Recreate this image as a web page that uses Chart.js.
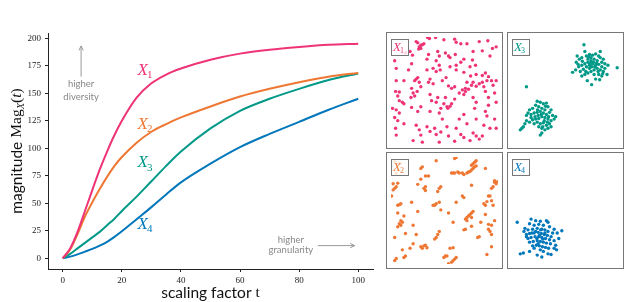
<!DOCTYPE html>
<html>
<head>
<meta charset="utf-8">
<script src="https://cdn.jsdelivr.net/npm/chart.js@4.4.1/dist/chart.umd.min.js"></script>
<style>
html, body { margin: 0; padding: 0; background: #fff; }
#wrap { position: relative; width: 640px; height: 302px; overflow: hidden; }
#main { position: absolute; left: 0; top: 0; }
.panel { position: absolute; box-sizing: border-box; width: 117px; height: 117px; border: 1px solid #777; }
.panel canvas { display: block; }
</style>
</head>
<body>
<div id="wrap">
  <canvas id="main" width="380" height="302"></canvas>
  <div class="panel" style="left:386px;top:32px"><canvas id="p1" width="115" height="115"></canvas></div>
  <div class="panel" style="left:507px;top:32px"><canvas id="p3" width="115" height="115"></canvas></div>
  <div class="panel" style="left:386px;top:152px"><canvas id="p2" width="115" height="115"></canvas></div>
  <div class="panel" style="left:507px;top:152px"><canvas id="p4" width="115" height="115"></canvas></div>
</div>
<script>
// scaling factor t and magnitude curves
var tValues = [0, 2.5, 5, 7.5, 10, 12.5, 15, 17.5, 20, 25, 30, 35, 40, 50, 60, 70, 80, 90, 100];
var magX1 = [0, 9, 24, 43, 62, 80.5, 97, 112, 125, 146, 159, 167, 172.5, 180.5, 186, 189.5, 192, 194, 195];
var magX2 = [0, 8, 22, 38, 51, 63, 74, 84, 92, 105, 115, 122, 128, 138, 147, 154, 160, 165, 168.5];
var magX3 = [0, 4, 9, 14, 19, 24, 30, 36, 43, 56, 70, 84, 97, 118, 134, 145, 154, 162, 168];
var magX4 = [0, 1.5, 3.5, 6, 8.5, 11.5, 15, 19.5, 24.5, 35.5, 46.5, 58, 69, 86, 101, 113, 124, 135, 145];

var seriesNames = ['1', '2', '3', '4'];
var seriesColors = ['#ee3377', '#ee7733', '#009988', '#0077bb'];
var labelMag = [171, 122, 87, 31];

var xTickValues = [0, 20, 40, 60, 80, 100];
var yTickValues = [0, 25, 50, 75, 100, 125, 150, 175, 200];

// point clouds (panel coordinates, y downwards)
var cloudX1 = [[85,18],[90,22],[95,35],[100,30],[105,28],[110,25],[93,42],[100,40],[122,5],[128,8],[148,5],[175,12],[210,10],[215,20],[230,25],[250,25],[290,18],[318,15],[333,40],[345,35],[325,65],[300,48],[270,50],[268,78],[278,95],[260,100],[240,75],[230,85],[212,60],[195,70],[190,65],[180,55],[155,50],[160,65],[150,80],[120,75],[125,60],[73,62],[50,55],[65,50],[15,80],[20,105],[70,90],[60,110],[120,110],[140,105],[160,95],[163,110],[150,115],[195,100],[215,95],[215,110],[240,118],[250,150],[245,170],[265,160],[262,130],[280,125],[300,128],[310,120],[320,132],[330,145],[345,145],[335,160],[315,145],[300,150],[305,165],[290,155],[270,150],[280,163],[255,173],[245,180],[235,175],[225,185],[200,170],[190,162],[210,165],[182,135],[170,145],[140,155],[130,140],[125,150],[100,165],[90,135],[85,140],[95,150],[80,145],[45,145],[20,145],[18,180],[30,182],[70,170],[75,185],[68,200],[80,195],[88,180],[130,190],[135,210],[150,215],[155,200],[180,200],[175,220],[185,230],[195,228],[200,220],[188,235],[240,190],[210,205],[270,200],[280,215],[310,180],[320,200],[340,185],[345,215],[320,225],[310,245],[275,235],[240,255],[165,235],[160,250],[130,245],[100,230],[90,245],[70,232],[40,215],[45,220],[30,210],[25,195],[8,235],[20,240],[30,250],[15,265],[25,275],[45,285],[18,300],[20,322],[85,290],[95,305],[100,322],[120,295],[130,310],[145,300],[150,320],[165,312],[185,295],[190,325],[215,300],[230,320],[240,330],[260,340],[270,315],[280,325],[290,335],[300,325],[305,290],[325,300],[345,300],[340,270],[315,260],[280,270],[250,285],[225,270],[170,270],[160,345],[75,340],[105,345],[210,342]];

var cloudX2 = [[15,18],[30,25],[20,55],[10,90],[25,88],[5,130],[10,110],[15,105],[20,100],[25,160],[30,158],[35,155],[25,185],[35,210],[40,215],[30,220],[25,230],[35,225],[45,195],[70,150],[75,225],[90,180],[85,255],[50,252],[75,285],[15,265],[40,305],[65,300],[20,333],[15,340],[50,325],[45,330],[100,40],[105,35],[100,75],[115,65],[90,92],[110,105],[115,100],[115,112],[125,65],[150,15],[155,115],[160,105],[165,100],[145,160],[150,155],[140,160],[160,150],[190,185],[165,175],[150,265],[155,255],[160,245],[145,270],[100,295],[110,292],[115,290],[120,298],[105,300],[175,330],[180,325],[200,345],[205,340],[210,335],[215,330],[195,300],[205,298],[210,8],[215,5],[200,55],[205,55],[210,55],[220,52],[225,55],[235,55],[240,60],[250,55],[255,52],[260,50],[265,45],[270,40],[275,35],[280,32],[265,30],[270,25],[275,20],[280,15],[265,95],[235,130],[240,135],[215,150],[245,205],[250,200],[255,195],[260,190],[265,185],[270,180],[250,210],[265,200],[205,215],[240,240],[245,238],[265,228],[285,265],[290,262],[295,215],[310,190],[305,155],[310,160],[315,148],[320,130],[325,130],[330,105],[335,100],[340,85],[350,83],[340,80],[330,145],[335,160],[310,40],[330,255],[325,245],[320,238],[340,210],[330,225],[320,222],[330,295],[315,320],[345,90],[185,325],[190,350]];

var cloudX3 = [[237,28],[240,50],[215,65],[222,75],[212,85],[230,70],[245,65],[255,60],[265,62],[275,58],[285,65],[290,70],[300,75],[295,85],[280,80],[270,75],[260,80],[250,85],[240,90],[230,95],[220,100],[200,118],[210,110],[225,115],[235,108],[245,100],[255,95],[265,90],[275,95],[285,92],[295,100],[305,105],[300,115],[290,110],[280,105],[270,110],[260,115],[250,120],[240,125],[230,130],[248,145],[262,158],[270,125],[285,125],[295,130],[312,125],[305,90],[315,95],[290,50],[260,70],[250,75],[262,100],[272,100],[268,85],[278,88],[255,105],[243,115],[283,115],[298,122],[345,103],[275,140],[288,142],[218,92],[232,82],[258,88],[252,68],[50,165],[85,212],[95,215],[105,220],[115,218],[120,230],[110,240],[100,235],[90,230],[80,225],[70,235],[60,240],[55,250],[50,258],[65,255],[75,250],[85,248],[95,245],[105,250],[115,255],[125,248],[130,240],[135,258],[145,262],[140,270],[130,275],[120,270],[110,265],[100,262],[90,268],[80,270],[70,272],[60,280],[75,285],[85,280],[95,285],[105,282],[115,290],[125,285],[130,295],[120,300],[110,305],[100,300],[95,322],[100,315],[90,295],[45,285],[40,295],[30,305],[35,300],[50,275],[65,265],[88,258],[98,255],[108,275],[118,280],[78,262],[86,240],[112,228],[103,295],[122,262]];

var cloudX4 = [[20,215],[65,205],[80,210],[95,212],[115,210],[120,215],[60,220],[75,225],[90,222],[105,225],[125,230],[140,238],[165,243],[45,235],[55,240],[70,238],[85,235],[100,238],[110,240],[120,245],[135,250],[50,255],[60,252],[75,250],[88,248],[98,252],[108,255],[118,258],[130,262],[155,268],[55,268],[65,265],[78,262],[90,262],[100,265],[112,268],[125,272],[140,275],[60,280],[72,278],[85,275],[95,278],[105,280],[115,283],[128,285],[145,290],[70,292],[82,290],[92,292],[102,295],[112,297],[122,300],[140,300],[148,305],[95,305],[105,310],[120,318],[130,320],[85,322],[100,328],[40,315],[30,318],[60,310],[75,300],[50,262],[88,285],[68,250],[110,250],[80,245],[92,258],[103,270],[84,268],[96,240],[150,250],[42,245]];

function toPoints(ys) {
  return tValues.map(function (t, i) { return {x: t, y: ys[i]}; });
}

// X with a subscript, left edge at (x, y middle)
function drawSubName(ctx, x, y, num, color, size) {
  ctx.fillStyle = color;
  ctx.textBaseline = 'middle';
  ctx.textAlign = 'left';
  ctx.font = 'italic ' + size + 'px "Liberation Serif"';
  ctx.fillText('X', x, y);
  var w = ctx.measureText('X').width;
  ctx.font = Math.round(size * 0.65) + 'px "Liberation Serif"';
  ctx.fillText(num, x + w - 1, y + size * 0.3);
}

function arrow(ctx, x1, y1, x2, y2) {
  var a = Math.atan2(y2 - y1, x2 - x1);
  ctx.beginPath();
  ctx.moveTo(x1, y1);
  ctx.lineTo(x2, y2);
  ctx.stroke();
  ctx.beginPath();
  ctx.moveTo(x2 - 5 * Math.cos(a - 0.45), y2 - 5 * Math.sin(a - 0.45));
  ctx.lineTo(x2, y2);
  ctx.lineTo(x2 - 5 * Math.cos(a + 0.45), y2 - 5 * Math.sin(a + 0.45));
  ctx.stroke();
}

var mainText = {
  id: 'mainText',
  afterDraw: function (chart) {
    var ctx = chart.ctx, x = chart.scales.x, y = chart.scales.y;
    ctx.save();

    // curve names
    for (var i = 0; i < seriesNames.length; i++) {
      drawSubName(ctx, x.getPixelForValue(25.3), y.getPixelForValue(labelMag[i]), seriesNames[i], seriesColors[i], 17);
    }

    // grey notes
    ctx.fillStyle = '#888';
    ctx.strokeStyle = '#999';
    ctx.lineWidth = 1;
    ctx.font = '9.5px Lato';
    ctx.textAlign = 'center';
    ctx.textBaseline = 'middle';
    ctx.fillText('higher', x.getPixelForValue(6.2), y.getPixelForValue(158));
    ctx.fillText('diversity', x.getPixelForValue(6.2), y.getPixelForValue(147));
    arrow(ctx, x.getPixelForValue(6.2), y.getPixelForValue(165), x.getPixelForValue(6.2), y.getPixelForValue(193));
    ctx.fillText('higher', x.getPixelForValue(77.2), y.getPixelForValue(17));
    ctx.fillText('granularity', x.getPixelForValue(77.2), y.getPixelForValue(7.6));
    arrow(ctx, x.getPixelForValue(86.3), y.getPixelForValue(11.5), x.getPixelForValue(98.8), y.getPixelForValue(11.5));

    // x title: scaling factor t
    ctx.fillStyle = '#111';
    ctx.textAlign = 'left';
    ctx.textBaseline = 'middle';
    ctx.font = '15.5px Lato';
    var a = 'scaling factor ';
    var wa = ctx.measureText(a).width;
    ctx.font = '15.5px "Liberation Serif"';
    var wb = ctx.measureText('t').width;
    var cx = (chart.chartArea.left + chart.chartArea.right) / 2;
    var sx = cx - (wa + wb) / 2;
    ctx.font = '15.5px Lato';
    ctx.fillText(a, sx, 293);
    ctx.font = '15.5px "Liberation Serif"';
    ctx.fillText('t', sx + wa, 293);

    // y title: magnitude Mag_X(t)
    ctx.translate(17, (chart.chartArea.top + chart.chartArea.bottom) / 2);
    ctx.rotate(-Math.PI / 2);
    var parts = [
      {t: 'magnitude ', f: '15.5px Lato', dy: 0},
      {t: 'Mag', f: '15.5px "Liberation Serif"', dy: 0},
      {t: 'X', f: 'italic 10.5px "Liberation Serif"', dy: 4},
      {t: '(', f: '15.5px "Liberation Serif"', dy: 0},
      {t: 't', f: 'italic 15.5px "Liberation Serif"', dy: 0},
      {t: ')', f: '15.5px "Liberation Serif"', dy: 0}
    ];
    var total = 0;
    parts.forEach(function (p) { ctx.font = p.f; p.w = ctx.measureText(p.t).width; total += p.w; });
    var px = -total / 2;
    parts.forEach(function (p) { ctx.font = p.f; ctx.fillText(p.t, px, p.dy); px += p.w; });
    ctx.restore();
  }
};

new Chart(document.getElementById('main'), {
  type: 'line',
  data: {
    datasets: [magX1, magX2, magX3, magX4].map(function (ys, i) {
      return {
        data: toPoints(ys),
        borderColor: seriesColors[i],
        borderWidth: 2,
        pointRadius: 0,
        fill: false,
        cubicInterpolationMode: 'monotone'
      };
    })
  },
  options: {
    responsive: false,
    animation: false,
    layout: {padding: {top: 33, right: 7, left: 0, bottom: 0}},
    plugins: {legend: {display: false}, tooltip: {enabled: false}},
    scales: {
      x: {
        type: 'linear',
        min: -5,
        max: 105,
        afterBuildTicks: function (s) { s.ticks = xTickValues.map(function (v) { return {value: v}; }); },
        afterFit: function (s) { s.height = 33; },
        grid: {drawOnChartArea: false, drawTicks: true, tickLength: 3, color: '#222'},
        border: {color: '#222', width: 1},
        ticks: {font: {family: 'Liberation Serif', size: 9}, color: '#222', padding: 3, maxRotation: 0}
      },
      y: {
        type: 'linear',
        min: -9.75,
        max: 204.75,
        afterBuildTicks: function (s) { s.ticks = yTickValues.map(function (v) { return {value: v}; }); },
        afterFit: function (s) { s.width = 48; },
        grid: {drawOnChartArea: false, drawTicks: true, tickLength: 3, color: '#222'},
        border: {color: '#222', width: 1},
        ticks: {font: {family: 'Liberation Serif', size: 9}, color: '#222', padding: 4}
      }
    }
  },
  plugins: [mainText]
});

function boxLabel(num, color) {
  return {
    id: 'boxLabel' + num,
    afterDraw: function (chart) {
      var ctx = chart.ctx;
      ctx.save();
      ctx.fillStyle = 'rgba(255,255,255,0.8)';
      ctx.fillRect(4.5, 6.5, 17, 16);
      ctx.strokeStyle = '#777';
      ctx.lineWidth = 1;
      ctx.strokeRect(4.5, 6.5, 17, 16);
      drawSubName(ctx, 6, 14.5, num, color, 13);
      ctx.restore();
    }
  };
}

function makePanel(id, cloud, num, color) {
  new Chart(document.getElementById(id), {
    type: 'scatter',
    data: {
      datasets: [{
        data: cloud.map(function (p) { return {x: p[0], y: p[1]}; }),
        backgroundColor: color,
        borderWidth: 0,
        pointRadius: 1.7
      }]
    },
    options: {
      responsive: false,
      animation: false,
      layout: {padding: 0},
      plugins: {legend: {display: false}, tooltip: {enabled: false}},
      scales: {
        x: {display: false, min: 3, max: 351},
        y: {display: false, min: 3, max: 351, reverse: true}
      }
    },
    plugins: [boxLabel(num, color)]
  });
}

makePanel('p1', cloudX1, '1', seriesColors[0]);
makePanel('p2', cloudX2, '2', seriesColors[1]);
makePanel('p3', cloudX3, '3', seriesColors[2]);
makePanel('p4', cloudX4, '4', seriesColors[3]);
</script>
</body>
</html>
